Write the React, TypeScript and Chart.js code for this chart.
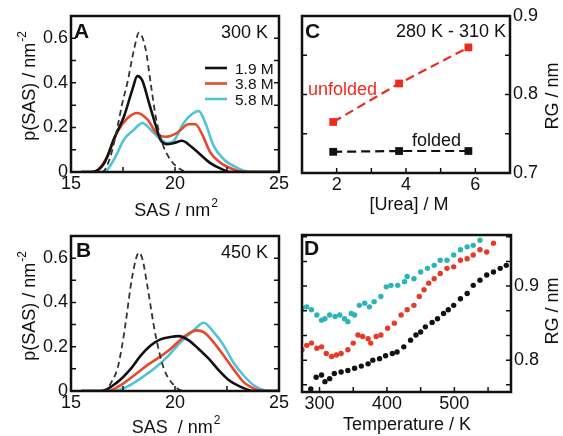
import React, { useEffect, useRef } from 'react';
import { Chart, registerables } from 'chart.js';
Chart.register(...registerables);

const FONT = '"Liberation Sans", Arial, Helvetica, sans-serif';
const INK = '#111111';
const RED_LINE = '#e9482c';
const CYAN_LINE = '#50c4d6';
const RED_DOT = '#e63a28';
const CYAN_DOT = '#2cb3b8';
const RED_C = '#ee2a1e';

// ---------- Panel A : p(SAS) at 300 K  [SAS nm^2, p]
const A_NATIVE: [number, number][] = [[16.0, 0], [16.5, 0], [16.9, 0.07], [17.23, 0.2], [17.47, 0.31], [17.71, 0.4], [18.03, 0.55], [18.27, 0.625], [18.59, 0.55], [18.83, 0.4], [19.07, 0.25], [19.39, 0.13], [19.78, 0.055], [20.26, 0.012], [20.6, 0], [21, 0]];
const A_19M: [number, number][] = [[15.5, 0], [15.95, 0], [16.6, 0.04], [17.07, 0.15], [17.55, 0.25], [17.95, 0.37], [18.19, 0.43], [18.43, 0.41], [18.75, 0.31], [19.07, 0.21], [19.3, 0.145], [19.6, 0.125], [19.95, 0.13], [20.34, 0.14], [20.74, 0.117], [21.2, 0.08], [21.7, 0.04], [22.2, 0.015], [22.65, 0], [25, 0]];
const A_38M: [number, number][] = [[15.5, 0], [16.1, 0], [16.75, 0.07], [17.23, 0.18], [17.7, 0.24], [18.19, 0.265], [18.67, 0.236], [19.15, 0.17], [19.55, 0.158], [20.1, 0.176], [20.66, 0.214], [20.98, 0.214], [21.3, 0.17], [21.7, 0.087], [22.18, 0.042], [22.8, 0.012], [23.3, 0], [25, 0]];
const A_58M: [number, number][] = [[15.5, 0], [16.6, 0], [17.07, 0.057], [17.55, 0.146], [18.03, 0.19], [18.43, 0.22], [18.83, 0.19], [19.23, 0.154], [19.63, 0.13], [19.94, 0.14], [20.42, 0.22], [20.82, 0.26], [21.14, 0.274], [21.46, 0.22], [21.86, 0.117], [22.34, 0.057], [22.97, 0.02], [23.6, 0], [25, 0]];

// ---------- Panel B : p(SAS) at 450 K
const B_NATIVE: [number, number][] = [[16.0, 0], [16.6, 0], [17.0, 0.05], [17.23, 0.1], [17.45, 0.2], [17.63, 0.31], [17.95, 0.52], [18.27, 0.625], [18.45, 0.59], [18.67, 0.475], [19.07, 0.25], [19.47, 0.1], [19.94, 0.027], [20.42, 0], [21, 0]];
const B_19M: [number, number][] = [[15.5, 0], [16.44, 0], [17.23, 0.04], [17.87, 0.1], [18.35, 0.16], [18.83, 0.206], [19.3, 0.233], [19.78, 0.244], [20.18, 0.248], [20.66, 0.229], [21.14, 0.19], [21.62, 0.146], [22.1, 0.094], [22.58, 0.05], [23.13, 0.02], [23.77, 0], [25, 0]];
const B_38M: [number, number][] = [[15.5, 0], [16.75, 0], [17.4, 0.027], [18.03, 0.07], [18.67, 0.117], [19.15, 0.146], [19.78, 0.19], [20.42, 0.244], [21.06, 0.274], [21.38, 0.266], [21.86, 0.22], [22.34, 0.16], [22.8, 0.1], [23.3, 0.04], [23.77, 0.012], [24.25, 0], [25, 0]];
const B_58M: [number, number][] = [[15.5, 0], [17.07, 0], [17.7, 0.02], [18.35, 0.057], [18.99, 0.1], [19.63, 0.154], [20.26, 0.22], [20.9, 0.274], [21.38, 0.308], [21.86, 0.266], [22.34, 0.206], [22.8, 0.13], [23.3, 0.07], [23.77, 0.027], [24.25, 0.005], [24.7, 0], [25, 0]];

// ---------- Panel C : RG vs [Urea], 280 K - 310 K
const C_UREA = [1.9, 3.8, 5.8];
const C_UNFOLDED = [0.765, 0.814, 0.86];
const C_FOLDED = [0.727, 0.728, 0.728];

// ---------- Panel D : RG vs Temperature  [K, nm]
const D_19M: [number, number][] = [[287, 0.761], [295, 0.777], [303, 0.78], [308, 0.771], [315, 0.775], [322, 0.782], [332, 0.784], [342, 0.786], [352, 0.789], [362, 0.792], [372, 0.795], [379, 0.8], [389, 0.802], [398, 0.806], [408, 0.809], [415, 0.811], [425, 0.818], [435, 0.827], [443, 0.834], [450, 0.838], [457, 0.845], [467, 0.851], [475, 0.856], [484, 0.863], [491, 0.868], [499, 0.874], [509, 0.883], [519, 0.89], [528, 0.901], [538, 0.908], [548, 0.915], [558, 0.919], [568, 0.924], [577, 0.928]];
const D_38M: [number, number][] = [[274, 0.814], [281, 0.82], [288, 0.823], [296, 0.816], [303, 0.818], [310, 0.809], [318, 0.805], [325, 0.807], [332, 0.809], [342, 0.814], [350, 0.823], [357, 0.834], [364, 0.832], [372, 0.829], [376, 0.823], [384, 0.832], [391, 0.834], [401, 0.843], [411, 0.85], [421, 0.861], [430, 0.868], [440, 0.874], [448, 0.886], [455, 0.895], [462, 0.904], [470, 0.91], [479, 0.917], [489, 0.924], [499, 0.926], [509, 0.935], [519, 0.937], [528, 0.942], [538, 0.949], [548, 0.946], [558, 0.958]];
const D_58M: [number, number][] = [[274, 0.87], [281, 0.872], [288, 0.868], [296, 0.861], [303, 0.854], [308, 0.856], [315, 0.861], [323, 0.859], [330, 0.861], [337, 0.856], [342, 0.852], [347, 0.863], [352, 0.861], [359, 0.874], [367, 0.877], [374, 0.872], [381, 0.879], [391, 0.886], [399, 0.899], [406, 0.901], [416, 0.901], [426, 0.906], [430, 0.913], [440, 0.91], [450, 0.919], [460, 0.924], [470, 0.928], [479, 0.935], [489, 0.935], [499, 0.942], [509, 0.949], [519, 0.953], [528, 0.955], [538, 0.962]];

// ---------- ticks
const SAS_TICKS = [15, 20, 25];
const SAS_MINOR = [17.5, 20, 22.5];
const P_TICKS = [0, 0.2, 0.4, 0.6];
const P_MINOR = [0.1, 0.2, 0.3, 0.4, 0.5, 0.6];
const UREA_TICKS = [2, 4, 6];
const UREA_MINOR = [2, 3, 4, 5, 6];
const RGC_TICKS = [0.7, 0.8, 0.9];
const RGC_MINOR = [0.75, 0.8, 0.85];
const T_TICKS = [300, 400, 500];
const T_MINOR = [300, 350, 400, 450, 500, 550];
const RGD_TICKS = [0.8, 0.9];
const RGD_MINOR = [0.7667, 0.8, 0.8333, 0.8667, 0.9, 0.9333, 0.9667];

const LEGEND = [
  { label: '1.9 M', color: INK },
  { label: '3.8 M', color: RED_LINE },
  { label: '5.8 M', color: CYAN_LINE },
];

type Txt = { text: string; sup?: string; x: number; y: number; size?: number; bold?: boolean; color?: string; align?: 'left' | 'center' | 'right'; rot?: number };

interface Cfg {
  left: number; top: number; w: number; h: number;
  area: { l: number; t: number; r: number; b: number };
  yPos: 'left' | 'right';
  x: { min: number; max: number; ticks: number[]; minor: number[] };
  y: { min: number; max: number; ticks: number[]; minor: number[] };
  datasets: any[];
  texts: Txt[];
  legend?: boolean;
}

const pts = (arr: [number, number][]) => arr.map(([x, y]) => ({ x, y }));
const curve = (arr: [number, number][], color: string, dashed = false) => ({
  data: pts(arr), borderColor: color, borderWidth: dashed ? 1.8 : 2.6, borderDash: dashed ? [6, 4] : [],
  pointRadius: 0, cubicInterpolationMode: 'monotone', fill: false,
});
const dots = (arr: [number, number][], color: string) => ({
  data: pts(arr), showLine: false, pointRadius: 2.7, pointBorderWidth: 0,
  pointBackgroundColor: color, pointBorderColor: color, borderColor: color,
});
const squares = (xs: number[], ys: number[], color: string) => ({
  data: xs.map((x, i) => ({ x, y: ys[i] })), borderColor: color, borderWidth: 2.2, borderDash: [9, 5],
  pointStyle: 'rect', pointRadius: 5.5, pointBackgroundColor: color, pointBorderColor: color, pointBorderWidth: 0,
});

function drawTxt(ctx: CanvasRenderingContext2D, t: Txt) {
  const size = t.size ?? 18;
  const main = `${t.bold ? 'bold ' : ''}${size}px ${FONT}`;
  const supF = `${Math.round(size * 0.68)}px ${FONT}`;
  ctx.save();
  ctx.translate(t.x, t.y);
  if (t.rot) ctx.rotate(t.rot);
  ctx.fillStyle = t.color ?? INK;
  ctx.textBaseline = 'alphabetic';
  ctx.textAlign = 'left';
  ctx.font = main;
  const w1 = ctx.measureText(t.text).width;
  let w2 = 0;
  if (t.sup) { ctx.font = supF; w2 = ctx.measureText(t.sup).width + 1; }
  const total = w1 + w2;
  const x0 = t.align === 'right' ? -total : t.align === 'center' ? -total / 2 : 0;
  ctx.font = main;
  ctx.fillText(t.text, x0, 0);
  if (t.sup) { ctx.font = supF; ctx.fillText(t.sup, x0 + w1 + 1, -size * 0.5); }
  ctx.restore();
}

function makeDeco(cfg: Cfg) {
  return {
    id: 'deco',
    afterDraw(chart: any) {
      const { ctx, chartArea: ca, scales } = chart;
      ctx.save();
      ctx.strokeStyle = INK;
      ctx.lineWidth = 1.5;
      ctx.beginPath();
      cfg.x.minor.forEach((v) => {
        const px = scales.x.getPixelForValue(v);
        ctx.moveTo(px, ca.bottom); ctx.lineTo(px, ca.bottom - 5);
      });
      cfg.y.minor.forEach((v) => {
        const py = scales.y.getPixelForValue(v);
        ctx.moveTo(ca.left, py); ctx.lineTo(ca.left + 5, py);
        ctx.moveTo(ca.right, py); ctx.lineTo(ca.right - 5, py);
      });
      ctx.stroke();
      ctx.lineWidth = 2.5;
      ctx.strokeRect(ca.left, ca.top, ca.right - ca.left, ca.bottom - ca.top);
      if (cfg.legend) {
        LEGEND.forEach((it, i) => {
          const y = ca.top + 52 + i * 15.5;
          ctx.strokeStyle = it.color;
          ctx.lineWidth = 2.6;
          ctx.beginPath(); ctx.moveTo(ca.left + 134, y); ctx.lineTo(ca.left + 156, y); ctx.stroke();
          drawTxt(ctx, { text: it.label, x: ca.left + 164, y: y + 5.5, size: 15.5 });
        });
      }
      cfg.texts.forEach((t) => drawTxt(ctx, t));
      ctx.restore();
    },
  };
}

function buildConfig(cfg: Cfg): any {
  const a = cfg.area;
  const right = cfg.yPos === 'right';
  const tickFont = { family: FONT, size: 18 };
  const fmt = (v: any) => String(v);
  return {
    type: 'line',
    data: { datasets: cfg.datasets },
    options: {
      animation: false, responsive: false, maintainAspectRatio: false, events: [],
      layout: { padding: { top: a.t, left: right ? a.l : 0, right: right ? 0 : cfg.w - a.r, bottom: 0 } },
      plugins: { legend: { display: false }, tooltip: { enabled: false } },
      scales: {
        x: {
          type: 'linear', min: cfg.x.min, max: cfg.x.max,
          grid: { display: false, drawTicks: false }, border: { display: false },
          ticks: { font: tickFont, color: INK, padding: 1, maxRotation: 0, autoSkip: false, callback: fmt },
          afterBuildTicks: (s: any) => { s.ticks = cfg.x.ticks.map((v) => ({ value: v })); },
          afterFit: (s: any) => { s.height = cfg.h - a.b; },
        },
        y: {
          type: 'linear', position: cfg.yPos, min: cfg.y.min, max: cfg.y.max,
          grid: { display: false, drawTicks: false }, border: { display: false },
          ticks: { font: tickFont, color: INK, padding: 3, autoSkip: false, callback: fmt },
          afterBuildTicks: (s: any) => { s.ticks = cfg.y.ticks.map((v) => ({ value: v })); },
          afterFit: (s: any) => { s.width = right ? cfg.w - a.r : a.l; },
        },
      },
    },
    plugins: [makeDeco(cfg)],
  };
}

const PANELS: Cfg[] = [
  {
    left: 0, top: 0, w: 290, h: 220, area: { l: 71, t: 16, r: 279, b: 172 }, yPos: 'left',
    x: { min: 15, max: 25, ticks: SAS_TICKS, minor: SAS_MINOR },
    y: { min: 0, max: 0.7, ticks: P_TICKS, minor: P_MINOR },
    datasets: [curve(A_NATIVE, '#333333', true), curve(A_19M, INK), curve(A_38M, RED_LINE), curve(A_58M, CYAN_LINE)],
    legend: true,
    texts: [
      { text: 'A', x: 74, y: 38, size: 21, bold: true },
      { text: '300 K', x: 268, y: 38 , align: 'right' },
      { text: 'p(SAS) / nm', sup: '-2', x: 35, y: 86, rot: -Math.PI / 2, align: 'center' },
      { text: 'SAS / nm', sup: '2', x: 176, y: 216, align: 'center' },
    ],
  },
  {
    left: 0, top: 220, w: 290, h: 216, area: { l: 71, t: 16, r: 279, b: 171 }, yPos: 'left',
    x: { min: 15, max: 25, ticks: SAS_TICKS, minor: SAS_MINOR },
    y: { min: 0, max: 0.7, ticks: P_TICKS, minor: P_MINOR },
    datasets: [curve(B_NATIVE, '#333333', true), curve(B_19M, INK), curve(B_38M, RED_LINE), curve(B_58M, CYAN_LINE)],
    texts: [
      { text: 'B', x: 76, y: 37, size: 21, bold: true },
      { text: '450 K', x: 268, y: 38, align: 'right' },
      { text: 'p(SAS) / nm', sup: '-2', x: 35, y: 86, rot: -Math.PI / 2, align: 'center' },
      { text: 'SAS  / nm', sup: '2', x: 176, y: 213, align: 'center' },
    ],
  },
  {
    left: 290, top: 0, w: 273, h: 220, area: { l: 12, t: 16, r: 220, b: 173 }, yPos: 'right',
    x: { min: 1, max: 7, ticks: UREA_TICKS, minor: UREA_MINOR },
    y: { min: 0.7, max: 0.9, ticks: RGC_TICKS, minor: RGC_MINOR },
    datasets: [squares(C_UREA, C_UNFOLDED, RED_C), squares(C_UREA, C_FOLDED, INK)],
    texts: [
      { text: 'C', x: 15, y: 38, size: 21, bold: true },
      { text: '280 K - 310 K', x: 216, y: 37, align: 'right' },
      { text: 'unfolded', x: 18, y: 95, color: RED_C },
      { text: 'folded', x: 122, y: 146 },
      { text: 'RG / nm', x: 268, y: 96, rot: -Math.PI / 2, align: 'center' },
      { text: '[Urea] / M', x: 119, y: 210, align: 'center' },
    ],
  },
  {
    left: 290, top: 220, w: 273, h: 216, area: { l: 12, t: 15, r: 221, b: 172 }, yPos: 'right',
    x: { min: 274, max: 584, ticks: T_TICKS, minor: T_MINOR },
    y: { min: 0.757, max: 0.969, ticks: RGD_TICKS, minor: RGD_MINOR },
    datasets: [dots(D_19M, INK), dots(D_38M, RED_DOT), dots(D_58M, CYAN_DOT)],
    texts: [
      { text: 'D', x: 14, y: 35, size: 21, bold: true },
      { text: 'RG / nm', x: 268, y: 91, rot: -Math.PI / 2, align: 'center' },
      { text: 'Temperature / K', x: 117, y: 210, align: 'center' },
    ],
  },
];

function Panel({ cfg }: { cfg: Cfg }) {
  const ref = useRef<HTMLCanvasElement>(null);
  useEffect(() => {
    const chart = new Chart(ref.current as HTMLCanvasElement, buildConfig(cfg));
    return () => chart.destroy();
  }, [cfg]);
  return (
    <canvas ref={ref} width={cfg.w} height={cfg.h}
      style={{ position: 'absolute', left: cfg.left, top: cfg.top, width: cfg.w, height: cfg.h }} />
  );
}

export default function App() {
  return (
    <div style={{ position: 'absolute', left: 0, top: 0, width: 563, height: 436, background: '#ffffff', overflow: 'hidden' }}>
      {PANELS.map((p, i) => <Panel key={i} cfg={p} />)}
    </div>
  );
}
